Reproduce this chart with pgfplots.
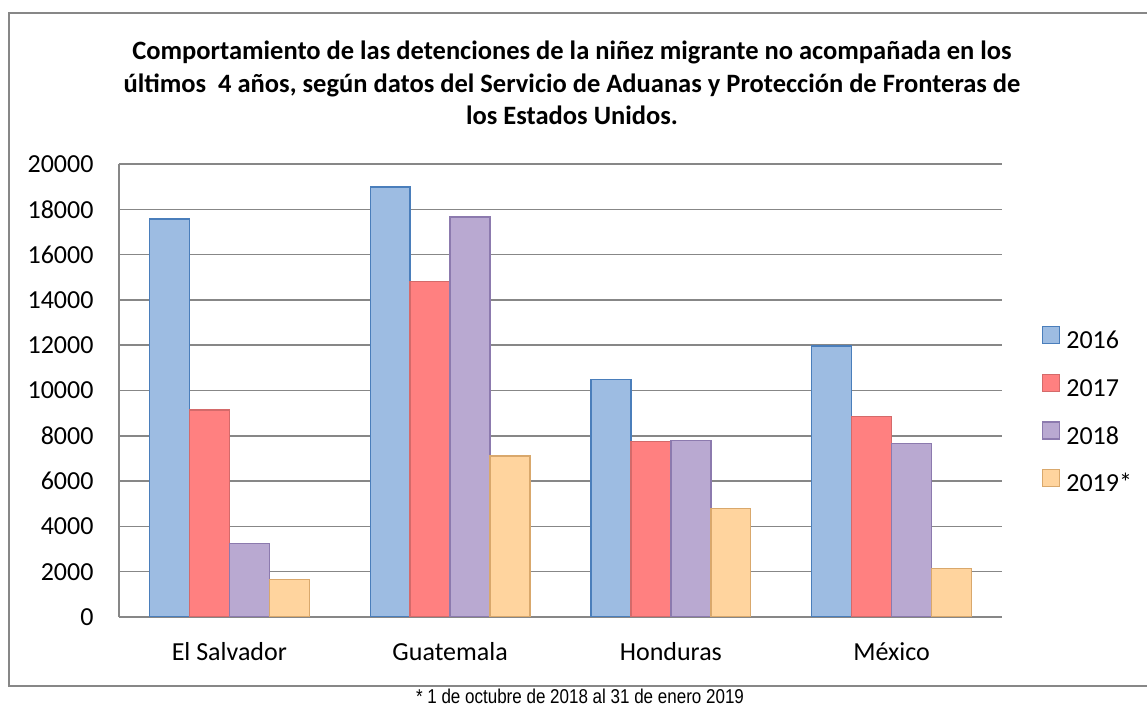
\documentclass[border=0pt]{standalone}
\usepackage{pgfplots}
\pgfplotsset{compat=1.18}
\usepackage{fontspec}
\setmainfont{Carlito}
\newfontfamily\notefont{Liberation Sans}

\definecolor{gridgray}{HTML}{878787}
\definecolor{c16}{HTML}{9DBCE2}
\definecolor{e16}{HTML}{4A7EBB}
\definecolor{c17}{HTML}{FF8080}
\definecolor{e17}{HTML}{D46A6A}
\definecolor{c18}{HTML}{B9A9D1}
\definecolor{e18}{HTML}{8C7AAE}
\definecolor{c19}{HTML}{FFD49E}
\definecolor{e19}{HTML}{D9A86C}

\pgfplotsset{
  barstyle/.style n args={2}{draw=#2, line width=1.4bp, fill=#1},
}

\begin{document}
\begin{tikzpicture}[x=1bp,y=1bp]
\begin{axis}[
    at={(0,0)}, anchor=south west,
    scale only axis,
    width=883bp, height=453bp,
    ybar=0pt, bar width=0.181,
    xmin=-0.5, xmax=3.5,
    ymin=0, ymax=20000,
    xtick={0,1,2,3},
    xticklabels={El Salvador,Guatemala,Honduras,México},
    ytick={0,2000,...,20000},
    scaled y ticks=false,
    /pgf/number format/assume math mode=true,
    yticklabel={\pgfmathprintnumber[fixed,1000 sep={}]{\tick}},
    font=\fontsize{26bp}{31bp}\selectfont,
    axis x line*=bottom, axis y line*=left,
    axis line style={draw=gridgray, line width=1.5bp, -},
    ymajorgrids, grid style={draw=gridgray, line width=1.5bp},
    major tick length=0pt,
    tick style={draw=none},
    yticklabel style={xshift=-22bp},
    xticklabel style={yshift=-22bp},
    legend style={draw=none, fill=none, at={(1.045,0.454)}, anchor=west,
        inner sep=0pt, row sep=20bp, column sep=6bp,
        nodes={inner sep=0pt, text height=19bp, text depth=5bp}},
    legend cell align=left,
    legend image code/.code={\draw[#1] (0bp,-2bp) rectangle (17bp,15bp);},
]
\addplot[barstyle={c16}{e16}] coordinates {(0,17570) (1,18990) (2,10490) (3,11960)};
\addlegendentry{2016}
\addplot[barstyle={c17}{e17}] coordinates {(0,9140) (1,14800) (2,7750) (3,8860)};
\addlegendentry{2017}
\addplot[barstyle={c18}{e18}] coordinates {(0,3250) (1,17660) (2,7780) (3,7670)};
\addlegendentry{2018}
\addplot[barstyle={c19}{e19}] coordinates {(0,1650) (1,7100) (2,4800) (3,2150)};
\addlegendentry{2019*}
\end{axis}

% outer frame
\draw[gridgray, line width=1.5bp] (1040,604) -- (-110,604) -- (-110,-69) -- (1040,-69);
% title
\node[align=center, font=\fontsize{26.5bp}{32.5bp}\selectfont\bfseries] at (453,534)
  {Comportamiento de las detenciones de la niñez migrante no acompañada en los\\
   últimos\ \ 4 años, según datos del Servicio de Aduanas y Protección de Fronteras de\\
   los Estados Unidos.};
% footnote
\node[xscale=0.85, font=\notefont\fontsize{20bp}{24bp}\selectfont] at (461,-79)
  {* 1 de octubre de 2018 al 31 de enero 2019};

\pgfresetboundingbox
\path[use as bounding box] (-119,-90) rectangle (1028,617);
\end{tikzpicture}
\end{document}
